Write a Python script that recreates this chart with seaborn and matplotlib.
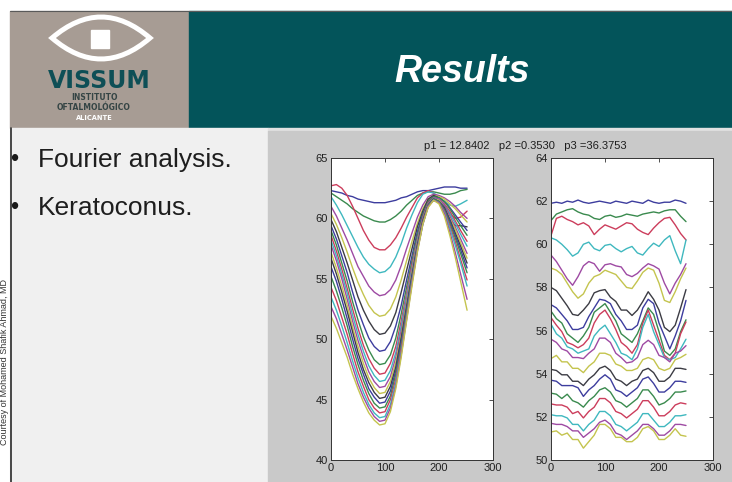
import matplotlib
matplotlib.use("Agg")
import matplotlib.pyplot as plt
from matplotlib.patches import Rectangle, PathPatch
from matplotlib.path import Path
import pandas as pd
import seaborn as sns

sns.set_theme(style="white")
plt.rcParams["font.family"] = ["Liberation Sans", "DejaVu Sans"]

# -----------------------------
# Data
# -----------------------------
x_left = list(range(0, 250, 10)) + [252]
x_right = list(range(0, 260, 10))

left_curves = [
    [62.3, 62.2, 62.1, 61.9, 61.8, 61.6, 61.5, 61.4, 61.3, 61.3, 61.3, 61.4, 61.5, 61.7, 61.8, 62.0, 62.2, 62.3, 62.3, 62.4, 62.5, 62.6, 62.6, 62.6, 62.5, 62.5],
    [62.1, 61.8, 61.5, 61.2, 60.8, 60.5, 60.2, 60.0, 59.8, 59.7, 59.7, 59.9, 60.2, 60.6, 61.1, 61.5, 61.9, 62.1, 62.2, 62.2, 62.1, 62.0, 62.0, 62.1, 62.3, 62.4],
    [62.7, 62.8, 62.5, 61.9, 61.0, 60.0, 59.0, 58.2, 57.6, 57.4, 57.4, 57.8, 58.4, 59.2, 60.1, 60.9, 61.7, 62.1, 62.3, 62.1, 61.6, 61.0, 60.4, 60.0, 60.1, 60.6],
    [61.8, 61.1, 60.3, 59.4, 58.5, 57.6, 56.8, 56.2, 55.8, 55.5, 55.6, 56.0, 56.8, 57.9, 59.2, 60.3, 61.3, 62.0, 62.2, 62.1, 61.8, 61.4, 61.1, 61.0, 61.2, 61.5],
    [61.0, 60.2, 59.2, 58.2, 57.1, 56.0, 55.2, 54.4, 53.9, 53.6, 53.7, 54.1, 54.9, 56.1, 57.5, 58.8, 60.1, 61.1, 61.8, 62.0, 61.9, 61.7, 61.4, 61.0, 60.5, 60.0],
    [60.4, 59.5, 58.4, 57.2, 55.9, 54.7, 53.7, 52.8, 52.2, 51.9, 52.0, 52.5, 53.5, 54.9, 56.5, 58.1, 59.6, 60.8, 61.6, 61.9, 61.8, 61.6, 61.2, 60.8, 60.3, 59.7],
    [59.9, 58.9, 57.6, 56.3, 54.9, 53.5, 52.4, 51.5, 50.8, 50.4, 50.5, 51.1, 52.2, 53.9, 55.7, 57.5, 59.3, 60.6, 61.6, 61.9, 61.7, 60.9, 59.9, 59.4, 59.4, 59.3],
    [59.4, 58.3, 56.9, 55.5, 53.9, 52.4, 51.2, 50.1, 49.4, 49.0, 49.1, 49.8, 51.1, 52.8, 54.9, 56.9, 58.9, 60.4, 61.4, 61.8, 61.7, 61.4, 60.9, 60.3, 59.7, 59.0],
    [59.0, 57.8, 56.3, 54.8, 53.1, 51.6, 50.2, 49.1, 48.3, 47.9, 48.0, 48.7, 50.1, 52.1, 54.3, 56.5, 58.6, 60.3, 61.4, 61.8, 61.7, 61.4, 60.8, 60.1, 59.4, 58.6],
    [58.6, 57.3, 55.8, 54.2, 52.5, 50.9, 49.5, 48.4, 47.6, 47.1, 47.2, 48.0, 49.4, 51.5, 53.8, 56.2, 58.3, 60.1, 61.3, 61.7, 61.6, 61.2, 60.6, 59.8, 59.0, 58.1],
    [58.2, 56.9, 55.4, 53.8, 52.0, 50.4, 49.0, 47.8, 47.0, 46.5, 46.6, 47.4, 48.9, 51.1, 53.5, 55.9, 58.2, 60.0, 61.2, 61.7, 61.6, 61.1, 60.4, 59.6, 58.7, 57.7],
    [57.8, 56.5, 55.0, 53.3, 51.5, 49.9, 48.5, 47.3, 46.5, 46.0, 46.1, 46.9, 48.5, 50.7, 53.2, 55.7, 58.1, 60.0, 61.2, 61.7, 61.6, 61.1, 60.2, 59.3, 58.3, 57.1],
    [57.2, 55.9, 54.4, 52.8, 51.0, 49.4, 48.0, 46.8, 46.0, 45.5, 45.6, 46.5, 48.1, 50.3, 52.9, 55.5, 57.9, 59.8, 61.1, 61.6, 61.5, 60.9, 60.0, 59.1, 58.0, 56.7],
    [56.7, 55.4, 53.9, 52.3, 50.6, 48.9, 47.5, 46.4, 45.6, 45.1, 45.2, 46.1, 47.7, 50.1, 52.7, 55.3, 57.8, 59.8, 61.1, 61.6, 61.4, 60.9, 59.9, 58.8, 57.7, 56.3],
    [56.0, 54.8, 53.3, 51.7, 50.0, 48.4, 47.1, 45.9, 45.2, 44.7, 44.8, 45.7, 47.4, 49.8, 52.5, 55.2, 57.7, 59.7, 61.1, 61.6, 61.4, 60.8, 59.8, 58.6, 57.4, 55.9],
    [55.2, 54.0, 52.6, 51.1, 49.4, 47.9, 46.6, 45.5, 44.7, 44.3, 44.4, 45.3, 47.1, 49.5, 52.3, 55.0, 57.6, 59.7, 61.1, 61.6, 61.4, 60.7, 59.6, 58.4, 57.1, 55.5],
    [54.3, 53.2, 51.8, 50.4, 48.8, 47.3, 46.1, 45.0, 44.3, 43.9, 44.0, 45.0, 46.7, 49.2, 52.0, 54.8, 57.5, 59.6, 61.0, 61.5, 61.3, 60.6, 59.4, 58.1, 56.6, 54.9],
    [53.5, 52.4, 51.1, 49.7, 48.2, 46.8, 45.6, 44.6, 43.9, 43.5, 43.6, 44.6, 46.4, 48.9, 51.8, 54.7, 57.4, 59.5, 61.0, 61.5, 61.3, 60.5, 59.2, 57.8, 56.3, 54.4],
    [52.7, 51.7, 50.4, 49.1, 47.7, 46.3, 45.2, 44.3, 43.6, 43.2, 43.3, 44.3, 46.1, 48.7, 51.6, 54.6, 57.3, 59.5, 61.0, 61.5, 61.3, 60.4, 58.9, 57.2, 55.4, 53.3],
    [51.9, 50.9, 49.7, 48.5, 47.1, 45.9, 44.8, 43.9, 43.3, 42.9, 43.0, 44.0, 45.9, 48.5, 51.5, 54.4, 57.2, 59.5, 60.9, 61.5, 61.2, 60.2, 58.6, 56.8, 54.8, 52.4],
]

right_curves = [
    [61.9, 61.95, 61.9, 62.0, 61.95, 62.05, 61.95, 61.9, 61.95, 62.0, 61.95, 61.9, 62.0, 61.95, 61.9, 62.0, 61.95, 61.9, 62.05, 61.95, 61.9, 61.95, 61.95, 62.05, 62.0, 61.9],
    [61.1, 61.4, 61.5, 61.6, 61.65, 61.5, 61.4, 61.35, 61.2, 61.15, 61.3, 61.35, 61.25, 61.3, 61.4, 61.35, 61.3, 61.4, 61.45, 61.5, 61.45, 61.55, 61.6, 61.6, 61.3, 61.05],
    [60.4, 61.2, 61.3, 61.15, 61.05, 60.9, 61.0, 60.85, 60.45, 60.7, 60.9, 60.8, 60.7, 60.85, 61.0, 60.95, 60.7, 60.55, 60.45, 60.75, 61.0, 61.2, 61.25, 60.9, 60.5, 60.2],
    [60.3, 60.2, 60.0, 59.75, 59.45, 59.6, 60.0, 60.1, 59.8, 59.7, 59.95, 60.0, 59.8, 59.65, 59.8, 59.9, 59.6, 59.5, 59.8, 60.05, 59.9, 60.2, 60.4, 59.7, 59.1, 60.2],
    [59.5, 59.2, 58.8, 58.4, 58.1, 58.5, 59.0, 59.2, 59.1, 58.75, 59.05, 59.1, 59.0, 58.95, 58.6, 58.5, 58.65, 58.9, 59.1, 59.0, 58.85, 58.2, 57.7, 58.2, 58.6, 59.1],
    [58.9, 58.8, 58.6, 58.2, 57.8, 57.5, 57.7, 58.2, 58.5, 58.6, 58.8, 58.7, 58.6, 58.3, 58.0, 57.95, 58.3, 58.7, 58.9, 58.8, 58.2, 57.4, 57.3, 57.8, 58.4, 58.9],
    [58.0, 57.85, 57.5, 57.15, 56.75, 56.7, 56.95, 57.25, 57.75, 57.85, 57.9, 57.55, 57.35, 56.95, 56.95, 56.7, 56.95, 57.35, 57.8, 57.45, 56.95, 56.15, 55.95, 56.25, 57.05, 57.9],
    [57.2, 57.05, 56.75, 56.45, 56.05, 56.05, 56.15, 56.65, 57.05, 57.45, 57.4, 57.25, 56.75, 56.45, 56.05, 56.05, 56.25, 57.05, 57.45, 57.25, 56.35, 55.75, 55.15, 55.75, 56.45, 57.4],
    [56.9, 56.55, 56.35, 55.85, 55.65, 55.45, 55.75, 56.15, 56.85, 57.05, 57.25, 56.85, 56.45, 55.85, 55.65, 55.45, 55.85, 56.45, 57.05, 56.75, 55.95, 55.05, 54.85, 55.15, 55.95, 56.5],
    [56.6, 56.25, 55.95, 55.45, 55.35, 55.2, 55.35, 55.65, 56.35, 56.75, 56.95, 56.55, 56.05, 55.45, 55.25, 54.95, 55.35, 56.35, 56.95, 56.25, 55.55, 54.85, 54.65, 54.95, 55.85, 56.4],
    [56.3, 55.85, 55.65, 55.25, 55.15, 54.95, 55.05, 55.15, 55.75, 56.05, 56.25, 55.85, 55.45, 54.95, 54.85, 54.65, 55.15, 56.15, 56.75, 55.95, 55.35, 54.75, 54.65, 54.75, 55.15, 55.6],
    [55.6, 55.45, 55.15, 55.05, 54.75, 54.75, 54.7, 54.95, 55.15, 55.65, 55.65, 55.45, 54.95, 54.75, 54.5, 54.55, 54.75, 55.35, 55.55, 55.35, 54.85, 54.75, 54.55, 54.95, 55.05, 55.3],
    [54.7, 54.85, 54.55, 54.55, 54.25, 54.25, 54.05, 54.35, 54.55, 54.95, 54.95, 54.85, 54.45, 54.35, 54.15, 54.15, 54.25, 54.65, 54.75, 54.65, 54.25, 54.15, 54.25, 54.65, 54.75, 54.9],
    [54.2, 54.15, 53.95, 53.95, 53.65, 53.65, 53.45, 53.75, 53.95, 54.25, 54.35, 54.15, 53.75, 53.65, 53.45, 53.65, 53.75, 54.15, 54.25, 54.05, 53.65, 53.65, 53.85, 54.25, 54.25, 54.2],
    [53.7, 53.65, 53.45, 53.45, 53.45, 53.35, 52.95, 53.25, 53.45, 53.75, 53.95, 53.75, 53.25, 53.15, 52.95, 53.15, 53.35, 53.75, 53.85, 53.55, 53.15, 53.15, 53.35, 53.65, 53.65, 53.6],
    [53.1, 53.05, 52.85, 53.05, 52.75, 52.65, 52.45, 52.75, 52.95, 53.25, 53.35, 53.15, 52.75, 52.65, 52.45, 52.65, 52.85, 53.25, 53.25, 52.95, 52.55, 52.65, 52.85, 53.15, 53.15, 53.2],
    [52.6, 52.55, 52.55, 52.45, 52.15, 52.25, 51.95, 52.25, 52.45, 52.85, 52.85, 52.65, 52.25, 52.15, 51.95, 52.15, 52.35, 52.75, 52.75, 52.45, 52.05, 52.05, 52.25, 52.55, 52.65, 52.6],
    [52.1, 52.05, 52.05, 51.95, 51.65, 51.65, 51.35, 51.65, 51.85, 52.25, 52.25, 52.05, 51.65, 51.55, 51.35, 51.55, 51.75, 52.15, 52.15, 51.85, 51.55, 51.55, 51.75, 52.05, 52.05, 52.1],
    [51.7, 51.65, 51.65, 51.55, 51.35, 51.35, 51.05, 51.25, 51.45, 51.75, 51.85, 51.65, 51.25, 51.15, 50.95, 51.15, 51.35, 51.65, 51.65, 51.45, 51.15, 51.15, 51.35, 51.65, 51.65, 51.6],
    [51.3, 51.35, 51.15, 51.25, 50.95, 50.95, 50.55, 50.85, 51.15, 51.65, 51.65, 51.45, 51.05, 51.05, 50.85, 50.85, 51.05, 51.45, 51.55, 51.35, 50.95, 50.95, 51.15, 51.45, 51.15, 51.1],
]

# MATLAB style colour order (b, g, r, c, m, y, k), a bit washed out like the jpeg
line_colors = ["#3d3d9e", "#3a8a4e", "#cc3d5c", "#3fb8bf", "#9e4aa3", "#c4c44e", "#3c3c44"]

left_ticks = [40, 45, 50, 55, 60, 65]
right_ticks = [50, 52, 54, 56, 58, 60, 62, 64]
x_ticks = [0, 100, 200, 300]
p_text = "p1 = 12.8402   p2 =0.3530   p3 =36.3753"


def long_table(x, curves):
    rows = []
    for i, ys in enumerate(curves):
        for xv, yv in zip(x, ys):
            rows.append((f"c{i:02d}", xv, yv))
    return pd.DataFrame(rows, columns=["curve", "x", "value"])


df_left = long_table(x_left, left_curves)
df_right = long_table(x_right, right_curves)
pal_left = {f"c{i:02d}": line_colors[i % 7] for i in range(len(left_curves))}
pal_right = {f"c{i:02d}": line_colors[i % 7] for i in range(len(right_curves))}

# -----------------------------
# Slide background (pixel coordinates)
# -----------------------------
fig = plt.figure(figsize=(7.32, 4.82), dpi=100)
bg = fig.add_axes([0, 0, 1, 1])
bg.set_xlim(0, 732)
bg.set_ylim(482, 0)
bg.axis("off")

bg.add_patch(Rectangle((0, 0), 732, 482, color="white"))
bg.add_patch(Rectangle((10, 11), 179, 117, color="#a79c94"))
bg.add_patch(Rectangle((189, 11), 543, 117, color="#03545a"))
bg.add_patch(Rectangle((10, 128), 258, 354, color="#f0f0f0"))
bg.add_patch(Rectangle((268, 128), 464, 3, color="#e2e2e2"))
bg.add_patch(Rectangle((268, 131), 464, 351, color="#c9c9c9"))
bg.plot([10, 732], [11, 11], color="#5a5a5a", lw=0.8)
bg.plot([10.5, 10.5], [128, 482], color="#2a2a2a", lw=1.2)

# logo: eye outline + square
eye = Path(
    [(52, 38), (101, -4), (150, 38), (101, 80), (52, 38), (52, 38)],
    [Path.MOVETO, Path.CURVE3, Path.CURVE3, Path.CURVE3, Path.CURVE3, Path.CLOSEPOLY],
)
bg.add_patch(PathPatch(eye, facecolor="none", edgecolor="white", lw=3.6))
bg.add_patch(Rectangle((91, 30), 18, 18, color="white"))
bg.text(99, 81, "VISSUM", ha="center", va="center", color="#0e4f56",
        fontsize=17, fontweight="bold", family="DejaVu Sans")
bg.text(94, 98, "INSTITUTO", ha="center", va="center", color="#354545",
        fontsize=5.5, fontweight="bold", family="DejaVu Sans")
bg.text(94, 108, "OFTALMOLÓGICO", ha="center", va="center", color="#354545",
        fontsize=5.5, fontweight="bold", family="DejaVu Sans")
bg.text(94, 118, "ALICANTE", ha="center", va="center", color="white",
        fontsize=4.8, fontweight="bold", family="DejaVu Sans")

bg.text(462, 82, "Results", ha="center", va="baseline", color="white",
        fontsize=27, fontweight="bold", fontstyle="italic")

for yb, label in [(167, "Fourier analysis."), (215, "Keratoconus.")]:
    bg.text(14, yb - 7, "•", ha="center", va="center", fontsize=17, color="#1a1a1a")
    bg.text(38, yb, label, ha="left", va="baseline", fontsize=19, color="#1e1e1e")

# photo credit running up the narrow left margin
bg.text(5, 362, "Courtesy of Mohamed Shafik Ahmad, MD", rotation=90,
        ha="center", va="center", fontsize=6.5, color="#333333")

bg.text(525, 146, p_text, ha="center", va="center", fontsize=8, color="#1e1e1e")

# -----------------------------
# The two MATLAB panels
# -----------------------------
ax1 = fig.add_axes([331 / 732, 22 / 482, 162 / 732, 302 / 482])
ax2 = fig.add_axes([551 / 732, 22 / 482, 162 / 732, 302 / 482])

sns.lineplot(data=df_left, x="x", y="value", hue="curve", palette=pal_left,
             estimator=None, sort=False, legend=False, linewidth=1.0, ax=ax1)
sns.lineplot(data=df_right, x="x", y="value", hue="curve", palette=pal_right,
             estimator=None, sort=False, legend=False, linewidth=1.0, ax=ax2)

for ax, yticks in [(ax1, left_ticks), (ax2, right_ticks)]:
    ax.set_facecolor("white")
    ax.set_xlim(0, 300)
    ax.set_ylim(yticks[0], yticks[-1])
    ax.set_xticks(x_ticks)
    ax.set_yticks(yticks)
    ax.set_xlabel("")
    ax.set_ylabel("")
    ax.tick_params(direction="in", top=True, right=True, length=3, width=0.6,
                   labelsize=8, labelcolor="#202020", color="#333333", pad=2)
    for s in ax.spines.values():
        s.set_color("#333333")
        s.set_linewidth(0.7)

fig.savefig("out.png", dpi=100)
